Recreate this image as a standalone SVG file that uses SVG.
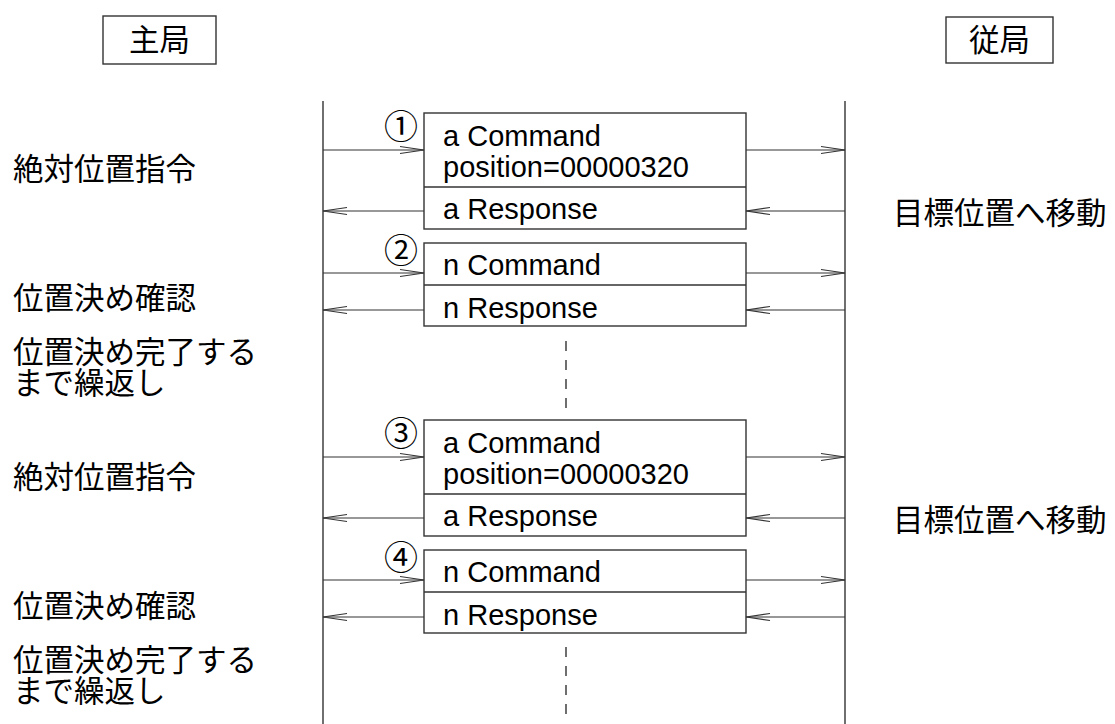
<svg xmlns="http://www.w3.org/2000/svg" width="1115" height="724" viewBox="0 0 1115 724">
  <style>
    .bg { fill: #ffffff; }
    .frame { fill: #ffffff; stroke: #333333; stroke-width: 1.4; }
    .life { stroke: #222222; stroke-width: 1.3; fill: none; }
    .msg { stroke: #333333; stroke-width: 1.2; fill: none; }
    .dash { stroke: #222222; stroke-width: 1.3; stroke-dasharray: 10 9; fill: none; }
    .jp { font-family: "Noto Sans CJK JP", "Noto Sans", sans-serif; font-size: 30.5px; fill: #000000; }
    .num { font-family: "Noto Sans CJK JP", sans-serif; font-size: 34px; fill: #000000; }
    .lat { font-family: "Liberation Sans", Arial, sans-serif; font-size: 29px; fill: #000000; }
  </style>
  <defs>
    <marker id="head" markerUnits="userSpaceOnUse" markerWidth="30" markerHeight="12" viewBox="-26 -6 28 12" refX="0" refY="0" orient="auto">
      <path d="M-24,-3.5 L0,0 L-24,3.5" fill="none" stroke="#333333" stroke-width="1.2"/>
    </marker>
  </defs>

  <rect class="bg" x="0" y="0" width="1115" height="724"/>

  <!-- station headers -->
  <g id="master">
    <rect class="frame" x="103" y="16" width="113" height="48"/>
    <text class="jp" x="159.5" y="51" text-anchor="middle">主局</text>
  </g>
  <g id="slave">
    <rect class="frame" x="946" y="17" width="107" height="46"/>
    <text class="jp" x="999.5" y="51" text-anchor="middle">従局</text>
  </g>

  <!-- lifelines -->
  <g id="lifelines">
    <line class="life" x1="323" y1="101" x2="323" y2="724"/>
    <line class="life" x1="845" y1="101" x2="845" y2="724"/>
  </g>

  <!-- message frames -->
  <g id="msg1">
    <rect class="frame" x="424" y="113" width="322" height="116"/>
    <line class="frame" x1="424" y1="187" x2="746" y2="187"/>
    <text class="num" x="401" y="139" text-anchor="middle">①</text>
    <text class="lat" x="443" y="146">a Command</text>
    <text class="lat" x="443" y="177">position=00000320</text>
    <text class="lat" x="443" y="219">a Response</text>
  </g>
  <g id="msg2">
    <rect class="frame" x="424" y="243" width="322" height="83"/>
    <line class="frame" x1="424" y1="285" x2="746" y2="285"/>
    <text class="num" x="401" y="263" text-anchor="middle">②</text>
    <text class="lat" x="443" y="275">n Command</text>
    <text class="lat" x="443" y="318">n Response</text>
  </g>
  <g id="msg3">
    <rect class="frame" x="424" y="420" width="322" height="116"/>
    <line class="frame" x1="424" y1="494" x2="746" y2="494"/>
    <text class="num" x="401" y="446" text-anchor="middle">③</text>
    <text class="lat" x="443" y="453">a Command</text>
    <text class="lat" x="443" y="484">position=00000320</text>
    <text class="lat" x="443" y="526">a Response</text>
  </g>
  <g id="msg4">
    <rect class="frame" x="424" y="550" width="322" height="83"/>
    <line class="frame" x1="424" y1="592" x2="746" y2="592"/>
    <text class="num" x="401" y="570" text-anchor="middle">④</text>
    <text class="lat" x="443" y="582">n Command</text>
    <text class="lat" x="443" y="625">n Response</text>
  </g>

  <!-- side labels -->
  <g id="labels-master">
    <text class="jp" x="13" y="180">絶対位置指令</text>
    <text class="jp" x="13" y="309">位置決め確認</text>
    <text class="jp" x="13" y="363">位置決め完了する</text>
    <text class="jp" x="13" y="394">まで繰返し</text>
    <text class="jp" x="13" y="488">絶対位置指令</text>
    <text class="jp" x="13" y="617">位置決め確認</text>
    <text class="jp" x="13" y="671">位置決め完了する</text>
    <text class="jp" x="13" y="702">まで繰返し</text>
  </g>
  <g id="labels-slave">
    <text class="jp" x="893" y="224">目標位置へ移動</text>
    <text class="jp" x="893" y="531">目標位置へ移動</text>
  </g>

  <!-- connectors -->
  <g id="connectors">
    <line class="msg" x1="323" y1="150" x2="424" y2="150" marker-end="url(#head)"/>
    <line class="msg" x1="746" y1="150" x2="845" y2="150" marker-end="url(#head)"/>
    <line class="msg" x1="845" y1="211" x2="746" y2="211" marker-end="url(#head)"/>
    <line class="msg" x1="424" y1="211" x2="323" y2="211" marker-end="url(#head)"/>

    <line class="msg" x1="323" y1="273" x2="424" y2="273" marker-end="url(#head)"/>
    <line class="msg" x1="746" y1="273" x2="845" y2="273" marker-end="url(#head)"/>
    <line class="msg" x1="845" y1="310" x2="746" y2="310" marker-end="url(#head)"/>
    <line class="msg" x1="424" y1="310" x2="323" y2="310" marker-end="url(#head)"/>

    <line class="msg" x1="323" y1="457" x2="424" y2="457" marker-end="url(#head)"/>
    <line class="msg" x1="746" y1="457" x2="845" y2="457" marker-end="url(#head)"/>
    <line class="msg" x1="845" y1="518" x2="746" y2="518" marker-end="url(#head)"/>
    <line class="msg" x1="424" y1="518" x2="323" y2="518" marker-end="url(#head)"/>

    <line class="msg" x1="323" y1="580" x2="424" y2="580" marker-end="url(#head)"/>
    <line class="msg" x1="746" y1="580" x2="845" y2="580" marker-end="url(#head)"/>
    <line class="msg" x1="845" y1="617" x2="746" y2="617" marker-end="url(#head)"/>
    <line class="msg" x1="424" y1="617" x2="323" y2="617" marker-end="url(#head)"/>

    <line class="dash" x1="566" y1="341" x2="566" y2="410"/>
    <line class="dash" x1="566" y1="647" x2="566" y2="716"/>
  </g>
</svg>
